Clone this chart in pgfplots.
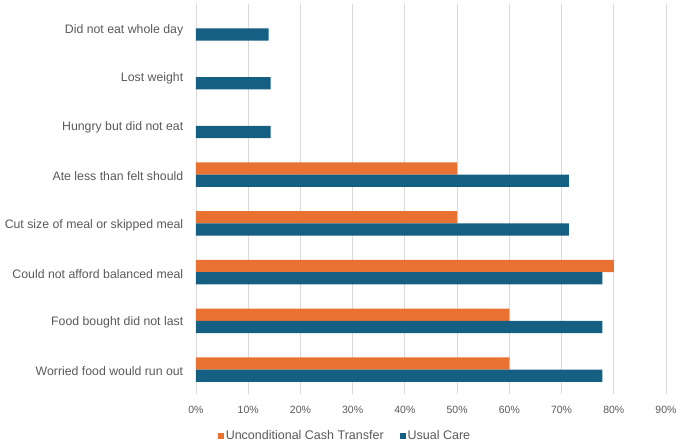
\documentclass[border=0pt]{standalone}
\usepackage{fontspec}
\setmainfont{Liberation Sans}
\usepackage{pgfplots}
\pgfplotsset{compat=1.18}
\definecolor{ucblue}{HTML}{156082}
\definecolor{uctorange}{HTML}{E97132}
\definecolor{txtgray}{HTML}{595959}
\definecolor{gridgray}{HTML}{D9D9D9}
\pgfplotsset{sqlegend/.style={legend image code/.code={\path[##1,draw=none] (0pt,-3pt) rectangle (6pt,3pt);}}}
\begin{document}
\begin{tikzpicture}[x=1pt,y=1pt]
\useasboundingbox (0,0) rectangle (680,443);
\begin{axis}[
  at={(196pt,49pt)}, anchor=south west,
  scale only axis, width=470pt, height=390pt,
  xbar, bar width=12.3pt,
  xmin=0, xmax=90, ymin=-0.5, ymax=7.5,
  ytick={0,...,7},
  yticklabels={Worried food would run out, Food bought did not last, Could not afford balanced meal, Cut size of meal or skipped meal, Ate less than felt should, Hungry but did not eat, Lost weight, Did not eat whole day},
  xtick={0,10,...,90},
  xticklabel={\pgfmathprintnumber{\tick}\%},
  /pgf/number format/assume math mode=true,
  xmajorgrids, major grid style={gridgray, line width=0.9pt},
  axis line style={draw=none},
  tick style={draw=none},
  yticklabel style={font=\fontsize{12.3}{13}\selectfont, text=txtgray, xshift=-5pt, yshift=-1.5pt},
  xticklabel style={font=\fontsize{10.5}{12}\selectfont, text=txtgray, yshift=-9pt},
  legend style={at={(axis description cs:0.317,-0.108)}, anchor=center, draw=none, fill=none,
    font=\fontsize{12.5}{13}\selectfont, text=txtgray, legend columns=2,
    /tikz/every even column/.append style={column sep=14pt}},
]
\addplot[fill=uctorange, draw=none, bar shift=6.15pt, sqlegend]
  coordinates {(60,0) (60,1) (80,2) (50,3) (50,4)};
\addlegendentry{Unconditional Cash Transfer}
\addplot[fill=ucblue, draw=none, bar shift=-6.15pt, sqlegend]
  coordinates {(77.8,0) (77.8,1) (77.8,2) (71.4,3) (71.4,4) (14.3,5) (14.3,6) (13.9,7)};
\addlegendentry{Usual Care}
\end{axis}
\end{tikzpicture}
\end{document}
